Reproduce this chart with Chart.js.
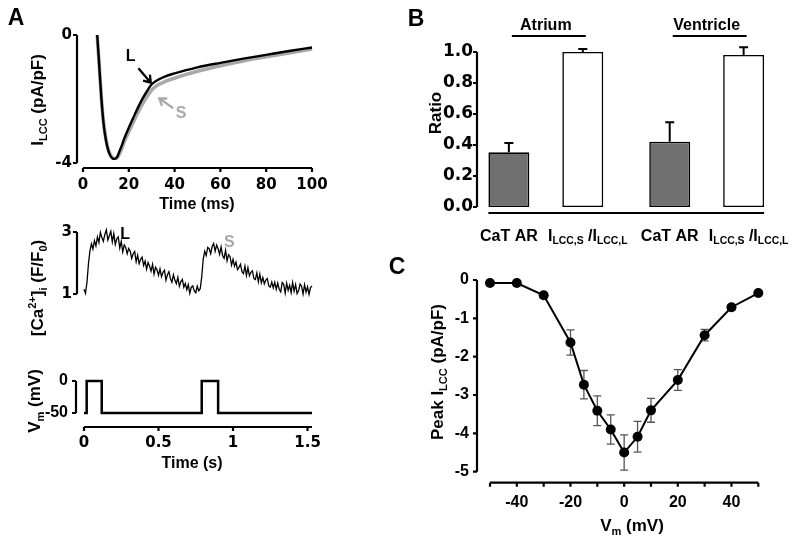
<!DOCTYPE html>
<html>
<head>
<meta charset="utf-8">
<script src="https://cdn.jsdelivr.net/npm/chart.js@4.4.1/dist/chart.umd.min.js"></script>
<style>
  body { margin: 0; background: #fff; }
  #fig { position: relative; width: 800px; height: 542px; }
  #fig canvas { position: absolute; left: 0; top: 0; }
</style>
</head>
<body>
<div id="fig">
  <canvas id="cA1" width="800" height="542"></canvas>
  <canvas id="cA2" width="800" height="542"></canvas>
  <canvas id="cA3" width="800" height="542"></canvas>
  <canvas id="cB" width="800" height="542"></canvas>
  <canvas id="cC" width="800" height="542"></canvas>
</div>
<script>
// ---- A, top: L-type Ca current traces (ms, pA/pF) ----
const iTime  = [6.2, 7, 8, 9, 10, 11, 12, 13, 14, 15, 16, 17, 18, 20, 22, 24, 26, 28, 30, 33, 36, 40, 45, 50, 60, 70, 80, 90, 100];
const iLong  = [0, -0.85, -1.95, -2.78, -3.28, -3.60, -3.78, -3.86, -3.87, -3.80, -3.62, -3.44, -3.24, -2.90, -2.58, -2.27, -1.99, -1.75, -1.54, -1.39, -1.29, -1.20, -1.10, -1.01, -0.87, -0.74, -0.62, -0.50, -0.39];
const iShort = [0, -0.85, -1.95, -2.76, -3.25, -3.57, -3.75, -3.84, -3.86, -3.82, -3.70, -3.53, -3.34, -3.02, -2.72, -2.42, -2.15, -1.92, -1.72, -1.55, -1.45, -1.35, -1.23, -1.13, -0.96, -0.81, -0.68, -0.56, -0.44];
const iTicksX = [0, 20, 40, 60, 80, 100];
const iTicksY = [-4, 0];

// ---- A, middle: Ca transient, one sample every caDt seconds ----
const caDt = 0.01;
const caRatio = [
  1.15, 1.02, 1.38, 1.98, 2.40, 2.62, 2.45, 2.72, 2.55, 2.84,
  2.66, 2.99, 2.82, 2.70, 2.92, 3.07, 2.74, 2.88, 3.02, 2.68,
  2.95, 2.60, 2.78, 2.84, 2.48, 2.70, 2.36, 2.58, 2.50, 2.30,
  2.47, 2.38, 2.15, 2.30, 2.37, 2.04, 2.25, 1.98, 2.12, 2.19,
  1.92, 2.06, 1.80, 2.01, 1.90, 1.74, 1.96, 1.64, 1.86, 1.78,
  1.60, 1.81, 1.56, 1.70, 1.77, 1.45, 1.62, 1.72, 1.50, 1.38,
  1.62, 1.44, 1.33, 1.54, 1.25, 1.40, 1.47, 1.22, 1.34, 1.14,
  1.30, 1.02, 1.22, 1.26, 1.10, 1.04, 1.25, 1.10, 1.17, 1.55,
  2.12, 2.38, 2.24, 2.50, 2.46, 2.30, 2.53, 2.63, 2.38, 2.58,
  2.46, 2.28, 2.52, 2.24, 2.15, 2.41, 2.07, 2.27, 2.21, 1.93,
  2.12, 1.90, 2.03, 1.79, 1.86, 1.96, 1.72, 1.66, 1.90, 1.60,
  1.85, 1.59, 1.70, 1.75, 1.50, 1.47, 1.68, 1.39, 1.64, 1.36,
  1.53, 1.33, 1.45, 1.50, 1.26, 1.22, 1.39, 1.20, 1.38, 1.15,
  1.35, 1.15, 1.07, 1.37, 1.31, 1.03, 1.35, 1.12, 1.28, 1.05,
  1.37, 1.09, 1.30, 1.01, 1.11, 1.32, 1.25, 1.00, 1.30, 1.06,
  1.23, 0.99, 1.21, 1.26
];
const caTicksY = [1, 3];

// ---- A, bottom: voltage protocol (s, mV), level reached at each time ----
const vmTime  = [0, 0.018, 0.119, 0.79, 0.90, 1.53];
const vmLevel = [-50, 0, -50, 0, -50, -50];
const vmTicksY = [-50, 0];
const secTicks = [0, 0.5, 1, 1.5];

// ---- B: ratios ----
const regions = ['Atrium', 'Ventricle'];
const catAR = [0.353, 0.421];
const catARErr = [0.06, 0.125];
const lccRatio = [1.0, 0.981];
const lccRatioErr = [0.019, 0.049];
const ratioTicks = [0, 0.2, 0.4, 0.6, 0.8, 1.0];

// ---- C: I-V relation ----
const ivVoltage = [-50, -40, -30, -20, -15, -10, -5, 0, 5, 10, 20, 30, 40, 50];
const ivPeak = [-0.08, -0.08, -0.40, -1.63, -2.73, -3.41, -3.90, -4.50, -4.09, -3.40, -2.61, -1.44, -0.71, -0.34];
const ivSem  = [0.02, 0.02, 0.07, 0.33, 0.37, 0.39, 0.38, 0.46, 0.40, 0.31, 0.27, 0.15, 0.07, 0.03];
const ivTicksX = [-50, -40, -30, -20, -10, 0, 10, 20, 30, 40, 50];
const ivLabelX = [-40, -20, 0, 20, 40];
const ivTicksY = [-5, -4, -3, -2, -1, 0];

const SANS = '"Liberation Sans", Arial, sans-serif';
const WIDE = '"DejaVu Sans", sans-serif';
const W = 800, H = 542;
const UP = -Math.PI / 2;

// text with _{sub} and ^{sup} parts, centred on x,y
function parseRich(s) {
  const out = [], re = /([_^])\{([^}]*)\}|([^_^]+)/g;
  let m;
  while ((m = re.exec(s))) out.push(m[3] !== undefined ? { t: m[3] } : { t: m[2], k: m[1] });
  return out;
}
function drawRich(ctx, str, x, y, o) {
  const size = o.size || 16, fam = o.family || SANS;
  const parts = parseRich(str);
  ctx.save();
  ctx.translate(x, y);
  ctx.rotate(o.rot || 0);
  ctx.fillStyle = o.color || '#000';
  ctx.textBaseline = 'alphabetic';
  ctx.textAlign = 'left';
  let w = 0;
  parts.forEach(p => {
    p.fs = p.k ? size * 0.65 : size;
    ctx.font = `bold ${p.fs}px ${fam}`;
    p.w = ctx.measureText(p.t).width;
    w += p.w;
  });
  let cx = -w / 2;
  parts.forEach(p => {
    ctx.font = `bold ${p.fs}px ${fam}`;
    const dy = p.k === '_' ? size * 0.22 : p.k === '^' ? -size * 0.4 : 0;
    ctx.fillText(p.t, cx, size * 0.36 + dy);
    cx += p.w;
  });
  ctx.restore();
}

// Prism-like detached axes with outward ticks
const prismAxes = {
  id: 'prismAxes',
  afterLayout(chart, args, o) {
    // move the y tick label box sideways, so the labels sit next to the detached axis
    if (o.shiftY) {
      chart.scales.y.left += o.shiftY;
      chart.scales.y.right += o.shiftY;
    }
  },
  afterDraw(chart, args, o) {
    const ctx = chart.ctx, a = chart.chartArea;
    ctx.save();
    ctx.strokeStyle = '#000';
    ctx.lineWidth = 2.2;
    ctx.beginPath();
    if (o.y) {
      const s = chart.scales.y, x0 = a.left - o.y.gap;
      ctx.moveTo(x0, s.getPixelForValue(s.max));
      ctx.lineTo(x0, s.getPixelForValue(s.min));
      s.ticks.forEach(t => {
        const p = s.getPixelForValue(t.value);
        ctx.moveTo(x0, p);
        ctx.lineTo(x0 - 4, p);
      });
    }
    if (o.x) {
      const s = chart.scales.x, y0 = a.bottom + o.x.gap;
      let x1, x2;
      if (o.x.fromBars) {
        const first = chart.getDatasetMeta(0).data[0];
        const lastMeta = chart.getDatasetMeta(chart.data.datasets.length - 1);
        const last = lastMeta.data[lastMeta.data.length - 1];
        x1 = first.x - first.width / 2;
        x2 = last.x + last.width / 2;
      } else {
        x1 = s.getPixelForValue(s.min);
        x2 = s.getPixelForValue(s.max);
        s.ticks.forEach(t => {
          const p = s.getPixelForValue(t.value);
          ctx.moveTo(p, y0);
          ctx.lineTo(p, y0 + 4);
        });
      }
      ctx.moveTo(x1, y0);
      ctx.lineTo(x2, y0);
    }
    ctx.stroke();
    ctx.restore();
  }
};

const figText = {
  id: 'figText',
  afterDraw(chart, args, o) {
    (o.items || []).forEach(it => drawRich(chart.ctx, it.text, it.x, it.y, it));
  }
};

// labels and arrows placed in data coordinates
const notes = {
  id: 'notes',
  afterDatasetsDraw(chart, args, o) {
    const { ctx, scales: { x, y } } = chart;
    (o.labels || []).forEach(n => drawRich(ctx, n.text, x.getPixelForValue(n.at[0]), y.getPixelForValue(n.at[1]), n));
    (o.arrows || []).forEach(ar => {
      const x1 = x.getPixelForValue(ar.from[0]), y1 = y.getPixelForValue(ar.from[1]);
      const x2 = x.getPixelForValue(ar.to[0]), y2 = y.getPixelForValue(ar.to[1]);
      const ang = Math.atan2(y2 - y1, x2 - x1), hl = 8;
      ctx.save();
      ctx.strokeStyle = ar.color;
      ctx.lineWidth = 2.3;
      ctx.beginPath();
      ctx.moveTo(x1, y1);
      ctx.lineTo(x2, y2);
      ctx.moveTo(x2 - hl * Math.cos(ang - 0.6), y2 - hl * Math.sin(ang - 0.6));
      ctx.lineTo(x2, y2);
      ctx.lineTo(x2 - hl * Math.cos(ang + 0.6), y2 - hl * Math.sin(ang + 0.6));
      ctx.stroke();
      ctx.restore();
    });
    if (o.barLabels) {
      chart.data.datasets.forEach((ds, di) => {
        chart.getDatasetMeta(di).data.forEach(el => drawRich(ctx, ds.label, el.x + (di ? 5 : 0), o.barLabels.y, { size: 16 }));
      });
    }
    if (o.groupLines) {
      const m0 = chart.getDatasetMeta(0).data, m1 = chart.getDatasetMeta(1).data;
      ctx.save();
      ctx.strokeStyle = '#000';
      ctx.lineWidth = 2.2;
      ctx.beginPath();
      m0.forEach((el, i) => {
        ctx.moveTo(el.x + 3, o.groupLines.y);
        ctx.lineTo(m1[i].x + 3, o.groupLines.y);
      });
      ctx.stroke();
      ctx.restore();
    }
  }
};

function drawErr(chart, o) {
  const ctx = chart.ctx, ys = chart.scales.y;
  ctx.save();
  ctx.strokeStyle = o.color;
  ctx.lineWidth = o.width;
  o.sets.forEach(set => {
    const vals = chart.data.datasets[set.dataset].data;
    chart.getDatasetMeta(set.dataset).data.forEach((el, i) => {
      const v = typeof vals[i] === 'object' ? vals[i].y : vals[i];
      const top = ys.getPixelForValue(v + set.err[i]);
      const bot = ys.getPixelForValue(o.upOnly ? v : v - set.err[i]);
      ctx.beginPath();
      ctx.moveTo(el.x, bot);
      ctx.lineTo(el.x, top);
      ctx.moveTo(el.x - o.cap, top);
      ctx.lineTo(el.x + o.cap, top);
      if (!o.upOnly) {
        ctx.moveTo(el.x - o.cap, bot);
        ctx.lineTo(el.x + o.cap, bot);
      }
      ctx.stroke();
    });
  });
  ctx.restore();
}
const errBars = {
  id: 'errBars',
  beforeDatasetsDraw(chart, args, o) { if (o.sets && o.behind) drawErr(chart, o); },
  afterDatasetsDraw(chart, args, o) { if (o.sets && !o.behind) drawErr(chart, o); }
};

Chart.register(prismAxes, figText, notes, errBars);

// chart area in page pixels; y axis box 40 wide, x axis box xh high
function boxLayout(l, t, r, b, xh, xTop) {
  return { padding: {
    left: l - 40, right: W - r,
    top: t - (xTop ? xh : 0),
    bottom: H - b - (xTop ? 0 : xh)
  } };
}
function linAxis(min, max, tickVals, o) {
  return {
    type: 'linear', min, max,
    display: o.display !== false,
    position: o.position,
    grid: { display: false, drawTicks: false }, border: { display: false },
    afterBuildTicks: s => { s.ticks = tickVals.map(v => ({ value: v })); },
    afterFit: s => { if (s.isHorizontal()) s.height = o.xh || 60; else s.width = 40; },
    ticks: {
      autoSkip: false, maxRotation: 0, minRotation: 0,
      padding: o.pad, color: '#000',
      font: { family: o.family || SANS, size: o.size || 16, weight: 'bold' },
      callback: o.fmt || (v => String(v))
    }
  };
}
function opts(layout, scales, plugins) {
  return {
    responsive: false, animation: false, events: [],
    layout, scales,
    plugins: Object.assign({ legend: { display: false }, tooltip: { enabled: false } }, plugins)
  };
}
const pts = (xs, ys) => xs.map((v, i) => ({ x: v, y: ys[i] }));

// A top
new Chart(document.getElementById('cA1'), {
  type: 'line',
  data: { datasets: [
    { label: 'L', data: pts(iTime, iLong), borderColor: '#000', borderWidth: 2.4, pointRadius: 0, cubicInterpolationMode: 'monotone', clip: false },
    { label: 'S', data: pts(iTime, iShort), borderColor: '#a9a9a9', borderWidth: 3.6, pointRadius: 0, cubicInterpolationMode: 'monotone', clip: false }
  ] },
  options: opts(boxLayout(83, 35, 312, 163, 60), {
    x: linAxis(0, 100, iTicksX, { pad: 13, family: WIDE, size: 15 }),
    y: linAxis(-4, 0, iTicksY, { pad: 11, family: WIDE, size: 15 })
  }, {
    prismAxes: { x: { gap: 5 }, y: { gap: 6 } },
    notes: {
      labels: [
        { text: 'L', at: [20.8, -0.63], size: 16 },
        { text: 'S', at: [42.8, -2.40], size: 16, color: '#a9a9a9' }
      ],
      arrows: [
        { from: [24.2, -1.04], to: [29.6, -1.49], color: '#000' },
        { from: [39.4, -2.29], to: [33.3, -1.98], color: '#a9a9a9' }
      ]
    },
    figText: { items: [
      { text: 'A', x: 16, y: 17, size: 23 },
      { text: 'I_{LCC} (pA/pF)', x: 37, y: 100, size: 17, rot: UP },
      { text: 'Time (ms)', x: 197, y: 203, size: 16 }
    ] }
  })
});

// A middle
new Chart(document.getElementById('cA2'), {
  type: 'line',
  data: { datasets: [
    { data: pts(caRatio.map((_, i) => i * caDt), caRatio), borderColor: '#000', borderWidth: 1.3, pointRadius: 0, tension: 0, clip: false }
  ] },
  options: opts(boxLayout(84, 232, 312, 354, 0), {
    x: linAxis(0, 1.53, secTicks, { display: false }),
    y: linAxis(1, 3, caTicksY, { pad: 12, family: WIDE, size: 15 })
  }, {
    prismAxes: { y: { gap: 7 } },
    notes: { labels: [
      { text: 'L', at: [0.276, 2.95], size: 16 },
      { text: 'S', at: [0.975, 2.70], size: 16, color: '#a9a9a9' }
    ] },
    figText: { items: [
      { text: '[Ca^{2+}]_{i} (F/F_{0})', x: 37, y: 288, size: 17, rot: UP }
    ] }
  })
});

// A bottom
new Chart(document.getElementById('cA3'), {
  type: 'line',
  data: { datasets: [
    { data: pts(vmTime, vmLevel), stepped: true, borderColor: '#000', borderWidth: 2.5, pointRadius: 0, clip: false }
  ] },
  options: opts(boxLayout(84, 381, 312, 413, 60), {
    x: linAxis(0, 1.53, secTicks, { pad: 21, family: WIDE, size: 15 }),
    y: linAxis(-50, 0, vmTicksY, { pad: 16, size: 16 })
  }, {
    prismAxes: { x: { gap: 14 }, y: { gap: 8 } },
    figText: { items: [
      { text: 'V_{m} (mV)', x: 34, y: 401, size: 17, rot: UP },
      { text: 'Time (s)', x: 192, y: 462, size: 16 }
    ] }
  })
});

// B
new Chart(document.getElementById('cB'), {
  type: 'bar',
  data: {
    labels: regions,
    datasets: [
      { label: 'CaT AR', data: catAR, backgroundColor: '#707070', borderColor: '#000', borderWidth: 1.6, borderSkipped: false, barPercentage: 0.554, categoryPercentage: 0.919 },
      { label: 'I_{LCC,S} /I_{LCC,L}', data: lccRatio, backgroundColor: '#fff', borderColor: '#000', borderWidth: 1.6, borderSkipped: false, barPercentage: 0.554, categoryPercentage: 0.919 }
    ]
  },
  options: opts(boxLayout(465.4, 52, 787.1, 207, 45, true), {
    x: {
      type: 'category', position: 'top',
      grid: { display: false, drawTicks: false }, border: { display: false },
      afterFit: s => { s.height = 45; },
      ticks: { padding: 17, color: '#000', maxRotation: 0, font: { family: SANS, size: 16, weight: 'bold' } }
    },
    y: linAxis(0, 1, ratioTicks, { pad: 4, family: WIDE, size: 17, fmt: v => v.toFixed(1) })
  }, {
    prismAxes: { x: { gap: 6, fromBars: true }, y: { gap: -11.6 }, shiftY: 11.6 },
    errBars: { color: '#000', width: 2, cap: 4.5, upOnly: true, sets: [
      { dataset: 0, err: catARErr },
      { dataset: 1, err: lccRatioErr }
    ] },
    notes: { barLabels: { y: 235 }, groupLines: { y: 36 } },
    figText: { items: [
      { text: 'B', x: 416, y: 18, size: 23 },
      { text: 'Ratio', x: 435, y: 113, size: 17, rot: UP }
    ] }
  })
});

// C
new Chart(document.getElementById('cC'), {
  type: 'line',
  data: { datasets: [
    { data: pts(ivVoltage, ivPeak), borderColor: '#000', borderWidth: 2, pointRadius: 5, pointBackgroundColor: '#000', pointBorderWidth: 0, tension: 0, clip: false }
  ] },
  options: opts(boxLayout(490, 280, 758.3, 471.7, 60), {
    x: linAxis(-50, 50, ivTicksX, { pad: 21, size: 16, fmt: v => (ivLabelX.includes(v) ? String(v) : '') }),
    y: linAxis(-5, 0, ivTicksY, { pad: 21, size: 16 })
  }, {
    prismAxes: { x: { gap: 11 }, y: { gap: 13 } },
    errBars: { color: '#555', width: 1.3, cap: 4, behind: true, sets: [{ dataset: 0, err: ivSem }] },
    figText: { items: [
      { text: 'C', x: 397, y: 266, size: 23 },
      { text: 'Peak I_{LCC} (pA/pF)', x: 437, y: 372, size: 17, rot: UP },
      { text: 'V_{m} (mV)', x: 632, y: 525, size: 17 }
    ] }
  })
});
</script>
</body>
</html>
